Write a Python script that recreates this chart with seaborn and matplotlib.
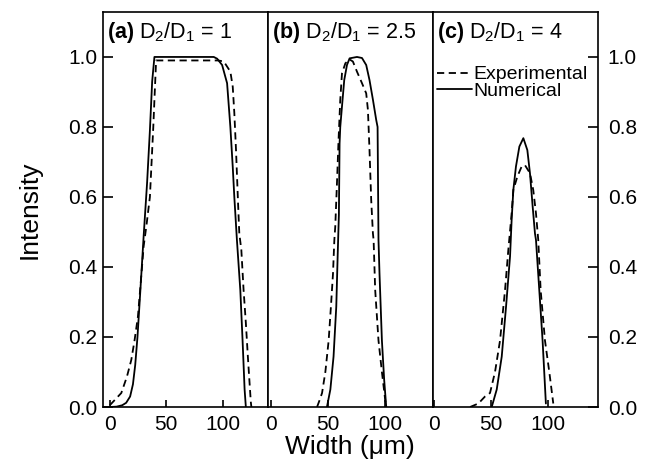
import numpy as np
import pandas as pd
import matplotlib
matplotlib.use("Agg")
import matplotlib.pyplot as plt
from matplotlib.lines import Line2D
import seaborn as sns

# ---- data (x in um, y normalised intensity) ----
a_exp_x = [0, 4.4, 10.2, 15.2, 19, 21.9, 24.9, 27.5, 30, 32.5, 35.5, 37, 38.5, 39.8, 41,
           60, 80, 96, 100.9, 106.7, 108.8, 110.2, 111.7, 113.4, 114.6, 116.4, 118.4,
           120.4, 122.2, 123.7, 124.8, 125.3]
a_exp_y = [0.005, 0.02, 0.04, 0.087, 0.134, 0.19, 0.258, 0.36, 0.46, 0.52, 0.6, 0.7, 0.8,
           0.9, 0.99, 0.99, 0.99, 0.99, 0.987, 0.958, 0.915, 0.84, 0.734, 0.591, 0.496,
           0.449, 0.334, 0.24, 0.143, 0.068, 0.014, 0]
a_num_x = [0, 6, 11, 14.5, 18, 20.5, 22.5, 24.5, 27, 30, 33, 35.5, 37.5, 39.5, 60, 80, 92,
           95, 99.4, 103.8, 106.7, 108.8, 110.2, 112.5, 115.5, 117.5, 119.3, 120.4]
a_num_y = [0, 0.001, 0.005, 0.012, 0.03, 0.065, 0.12, 0.2, 0.33, 0.49, 0.64, 0.79, 0.93,
           1.0, 1.0, 1.0, 1.0, 0.995, 0.977, 0.925, 0.8, 0.686, 0.6, 0.477, 0.334, 0.19,
           0.05, 0]

b_exp_x = [40.1, 42.4, 44.5, 47.4, 50.3, 52.3, 54.1, 55.3, 56.1, 57.6, 59, 60.5, 62, 65,
           68.7, 71.6, 75.2, 79.6, 83.3, 84.8, 86.2, 87.7, 89.2, 89.8, 91.2, 94.1, 97.1,
           100, 100.9]
b_exp_y = [0, 0.02, 0.04, 0.1, 0.19, 0.287, 0.38, 0.477, 0.515, 0.639, 0.763, 0.877, 0.953,
           0.982, 0.993, 0.987, 0.958, 0.925, 0.896, 0.849, 0.734, 0.591, 0.496, 0.477,
           0.334, 0.19, 0.1, 0.02, 0]
b_num_x = [48.8, 51.8, 54.6, 57, 58.2, 59.3, 59.9, 60.5, 62, 64, 66.4, 68.7, 75.2, 79.6,
           83.3, 86.2, 89.2, 92.1, 93.3, 94.1, 95, 97.1, 99.1, 100.9]
b_num_y = [0, 0.05, 0.144, 0.287, 0.43, 0.55, 0.753, 0.8, 0.858, 0.934, 0.977, 0.996, 1.0,
           0.997, 0.977, 0.934, 0.878, 0.82, 0.8, 0.477, 0.38, 0.19, 0.077, 0]

c_exp_x = [31.6, 38.9, 44.7, 49.1, 53.5, 57.9, 62.3, 65.2, 68.1, 69.6, 73.1, 76.9, 79.8,
           84.2, 87.1, 89.5, 91.5, 93.6, 97.4, 101.2, 104.7]
c_exp_y = [0, 0.01, 0.03, 0.04, 0.1, 0.19, 0.334, 0.449, 0.553, 0.62, 0.658, 0.687, 0.691,
           0.668, 0.62, 0.553, 0.477, 0.334, 0.19, 0.1, 0.01]
c_num_x = [50.6, 55, 59.4, 63.2, 66.7, 68.1, 69.6, 71.9, 74.9, 78.4, 81.9, 84.2, 86.6,
           88.6, 89.5, 92.4, 95.3, 98.2]
c_num_y = [0, 0.05, 0.144, 0.287, 0.43, 0.534, 0.62, 0.687, 0.744, 0.768, 0.734, 0.668,
           0.572, 0.496, 0.477, 0.334, 0.19, 0.01]

ratios = ["1", "2.5", "4"]
panel_tags = ["(a)", "(b)", "(c)"]
xlims = [(-6, 140), (-3, 142), (-1, 144)]
xticks = [0, 50, 100]
yticks = [0.0, 0.2, 0.4, 0.6, 0.8, 1.0]


def panel_df(ex, ey, nx, ny):
    exp = pd.DataFrame({"x": ex, "y": ey, "kind": "Experimental"})
    num = pd.DataFrame({"x": nx, "y": ny, "kind": "Numerical"})
    return pd.concat([exp, num], ignore_index=True)


panels = [
    panel_df(a_exp_x, a_exp_y, a_num_x, a_num_y),
    panel_df(b_exp_x, b_exp_y, b_num_x, b_num_y),
    panel_df(c_exp_x, c_exp_y, c_num_x, c_num_y),
]

sns.set_theme(style="ticks")
plt.rcParams["font.family"] = ["Liberation Sans", "DejaVu Sans"]
plt.rcParams["text.color"] = "black"
plt.rcParams["mathtext.fontset"] = "custom"
plt.rcParams["mathtext.rm"] = "Liberation Sans"
plt.rcParams["mathtext.it"] = "Liberation Sans:italic"
plt.rcParams["mathtext.bf"] = "Liberation Sans:bold"

fig, axes = plt.subplots(1, 3, figsize=(6.46, 4.65), dpi=100, sharey=True)
fig.subplots_adjust(left=103 / 646, right=598 / 646, bottom=58 / 465, top=1 - 12.5 / 465,
                    wspace=0)

dash_map = {"Experimental": (4, 2.5), "Numerical": ""}

for i, (ax, df) in enumerate(zip(axes, panels)):
    sns.lineplot(data=df, x="x", y="y", style="kind", dashes=dash_map, color="black",
                 estimator=None, sort=False, lw=1.3, legend=False, ax=ax)
    ax.set_xlim(*xlims[i])
    ax.set_ylim(0, 1.127)
    ax.set_xticks(xticks)
    ax.set_xlabel("")
    ax.set_ylabel("")
    for sp in ax.spines.values():
        sp.set_visible(True)
        sp.set_color("black")
        sp.set_linewidth(1.2)
    ax.tick_params(axis="x", direction="in", length=5, width=1.2, labelsize=15, pad=6,
                   colors="black")
    ax.tick_params(axis="y", direction="in", length=7, width=1.2, labelsize=15,
                   colors="black")
    ax.text(0.025, 0.95, r"$\mathbf{" + panel_tags[i] + r"}$ D$_2$/D$_1$ = " + ratios[i],
            transform=ax.transAxes, fontsize=15.5, va="center", ha="left", color="black")

axes[0].set_yticks(yticks)
axes[0].yaxis.set_major_formatter(plt.FuncFormatter(lambda v, _: f"{v:.1f}"))
axes[0].tick_params(axis="y", left=True, right=False, labelleft=True, pad=4)
axes[1].tick_params(axis="y", left=False, right=False, labelleft=False)
axes[2].tick_params(axis="y", left=False, right=True, labelleft=False, labelright=True,
                    pad=7)

handles = [Line2D([], [], color="black", lw=1.3, dashes=(4, 2.5)),
           Line2D([], [], color="black", lw=1.3)]
leg = axes[2].legend(handles, ["Experimental", "Numerical"], loc="upper left",
                     bbox_to_anchor=(0.0, 0.875), frameon=False, fontsize=14,
                     handlelength=1.8, handletextpad=0.1, labelspacing=-0.05,
                     borderpad=0, borderaxespad=0.2)
for t in leg.get_texts():
    t.set_color("black")

fig.text(350 / 646, 1 - 447 / 465, "Width (μm)", fontsize=19, ha="center", va="center",
         color="black")
fig.text(30 / 646, 1 - 210 / 465, "Intensity", fontsize=19, ha="center", va="center",
         rotation=90, color="black")

fig.savefig("out.png", dpi=100)
